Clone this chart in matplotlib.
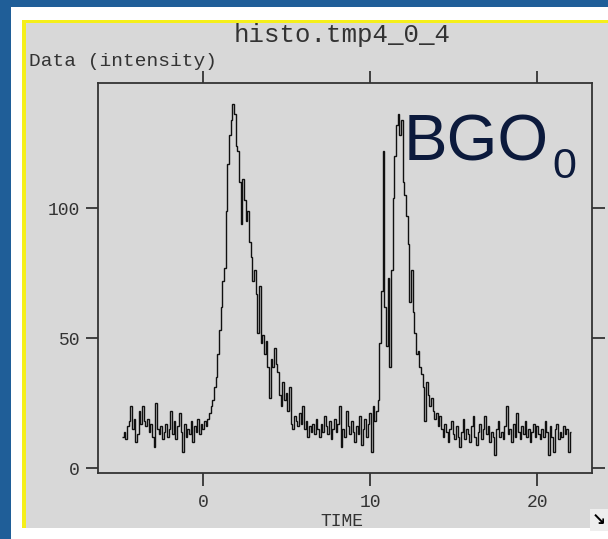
import matplotlib
matplotlib.use("Agg")
import matplotlib.pyplot as plt
import numpy as np
from matplotlib.patches import Rectangle

# Counts per TIME bin (0.1 wide), split by stretch of the trace.
baseline_before = [
    12, 14, 11, 16, 18, 24, 15, 19, 10, 13,
    22, 17, 24, 18, 16, 19, 14, 17, 12, 8,
    25, 15, 13, 16, 11, 14, 17, 12, 15, 22,
    13, 18, 11, 16, 21, 14, 6, 17, 12, 15,
    13, 18, 10, 16, 14, 19, 13, 17, 15, 18,
    16,
]
first_peak = [
    19, 21, 24, 26, 31, 35, 44, 53, 62, 72,
    77, 99, 117, 128, 134, 140, 136, 124, 122, 110,
    94, 111, 103, 95, 99, 87, 81, 72, 76, 67,
    52, 70, 48, 51, 44, 49, 39, 27, 42, 39,
    46, 40, 37, 28, 24, 33, 26, 29, 22, 31,
    17, 15, 20, 18, 16, 21, 17, 24, 15, 18,
    12, 16, 14, 17,
]
baseline_between = [
    13, 19, 15, 12, 17, 14, 20, 16, 13, 18,
    11, 15, 19, 14, 17, 24, 8, 15, 12, 22,
    16, 13, 18, 14, 10, 16, 13, 20, 9, 15,
    19, 12, 17, 21, 6, 24, 18, 22, 26,
]
second_peak = [
    48, 68, 122, 62, 47, 73, 39, 76, 104, 120,
    132, 136, 128, 134, 110, 105, 97, 86, 64, 76,
    60, 52, 44, 45, 39, 36, 31, 18, 33, 28,
    24, 27, 22, 19, 21, 16, 20, 15,
]
baseline_after = [
    12, 17, 14, 10, 15, 18, 13, 11, 16, 12,
    8, 14, 19, 11, 15, 13, 10, 16, 20, 12,
    9, 14, 17, 11, 15, 20, 13, 16, 10, 14,
    12, 5, 15, 18, 12, 14, 11, 16, 24, 13,
    15, 10, 17, 12, 21, 14, 11, 16, 13, 18,
    12, 15, 10, 14, 17, 12, 16, 13, 11, 15,
    12, 18, 14, 5, 16, 12, 6, 15, 17, 11,
    14, 12, 16, 13, 15, 6, 14,
]

time_start = -4.85
bin_width = 0.1

x_ticks = [0, 10, 20]
y_ticks = [0, 50, 100]

title = "histo.tmp4_0_4"
y_label = "Data (intensity)"
x_label = "TIME"

W, H = 608, 539
slide_blue = "#1f5e98"
panel_gray = "#d8d8d8"
ink = "#333333"
mono = "Liberation Mono"


def fpos(x, y):
    """Pixel position (origin top-left) to figure fraction."""
    return x / W, 1 - y / H


counts = np.array(
    baseline_before + first_peak + baseline_between + second_peak + baseline_after,
    dtype=float,
)
edges = time_start + bin_width * np.arange(len(counts) + 1)

fig = plt.figure(figsize=(W / 100, H / 100), dpi=100, facecolor=slide_blue)

# white slide card, gray plot window, yellow focus edges on left and top
fig.add_artist(Rectangle((11 / W, 0), 1, 1 - 7 / H, transform=fig.transFigure,
                         facecolor="white", edgecolor="none", zorder=0))
fig.add_artist(Rectangle((22 / W, 1 - 528 / H), 1, (528 - 20) / H,
                         transform=fig.transFigure, facecolor=panel_gray,
                         edgecolor="none", zorder=0))
fig.add_artist(Rectangle((22 / W, 1 - 528 / H), 4 / W, (528 - 20) / H,
                         transform=fig.transFigure, facecolor="#f5ef1a",
                         edgecolor="none", zorder=0))
fig.add_artist(Rectangle((22 / W, 1 - 23 / H), 1, 3 / H,
                         transform=fig.transFigure, facecolor="#f5ef1a",
                         edgecolor="none", zorder=0))

ax = fig.add_axes([98 / W, 1 - 473 / H, (592 - 98) / W, (473 - 83) / H])
ax.set_facecolor(panel_gray)
ax.stairs(counts, edges, baseline=None, color="#101010", linewidth=1.0)

ax.set_xlim(-6.29, 23.29)
ax.set_ylim(-1.9, 148.1)
ax.set_xticks(x_ticks)
ax.set_yticks(y_ticks)
for spine in ax.spines.values():
    spine.set_color(ink)
    spine.set_linewidth(1.3)
ax.tick_params(direction="out", length=9, width=1.3, color=ink,
               top=True, right=True, labeltop=False, labelright=False,
               labelsize=13, labelcolor=ink)
ax.tick_params(axis="x", pad=6)
ax.tick_params(axis="y", pad=4)
for lab in ax.get_xticklabels() + ax.get_yticklabels():
    lab.set_family(mono)

fig.text(*fpos(342, 35), title, family=mono, fontsize=18.5, color=ink,
         ha="center", va="center")
fig.text(*fpos(29, 62), y_label, family=mono, fontsize=14, color=ink,
         ha="left", va="center")
fig.text(*fpos(342, 522), x_label, family=mono, fontsize=13, color=ink,
         ha="center", va="center")

# detector label with subscript index
fig.text(*fpos(404, 160), "BGO", family="Liberation Sans", fontsize=47,
         color="#0c1a3c", ha="left", va="baseline")
fig.text(*fpos(552, 178), "0", family="Liberation Sans", fontsize=31,
         color="#0c1a3c", ha="left", va="baseline")

# resize grip in the window corner
fig.text(*fpos(599, 520), "\u2198", family="DejaVu Sans", fontsize=12,
         color="black", ha="center", va="center", fontweight="bold",
         bbox=dict(boxstyle="square,pad=0.1", facecolor="#eeeeee",
                   edgecolor="none"))

fig.savefig("out.png", dpi=100, facecolor=fig.get_facecolor())
